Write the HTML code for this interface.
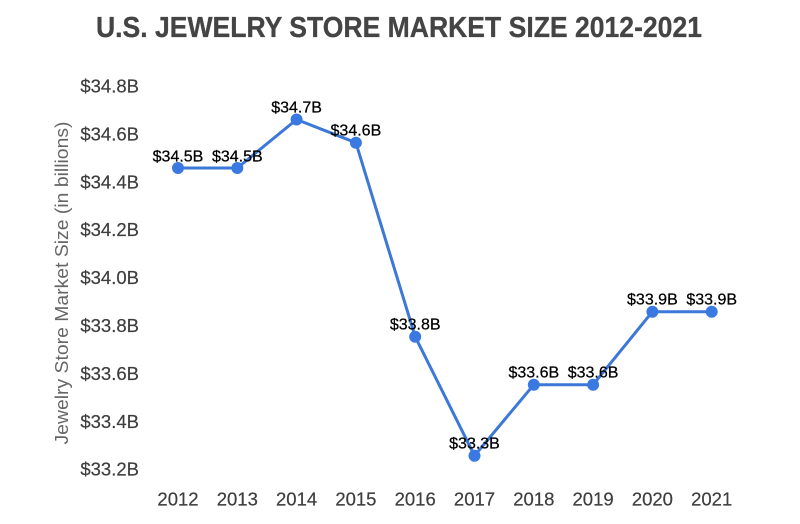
<!DOCTYPE html>
<html>
<head>
<meta charset="utf-8">
<style>
  html, body { margin: 0; padding: 0; background: #ffffff; }
  svg { display: block; }
  text { font-family: "Liberation Sans", "DejaVu Sans", sans-serif; }
</style>
</head>
<body>
<svg width="800" height="524" viewBox="0 0 800 524" xmlns="http://www.w3.org/2000/svg">
  <rect width="800" height="524" fill="#ffffff"/>
  <!-- Title -->
  <text x="96" y="37" font-size="29" font-weight="bold" fill="#444444" stroke="#444444" stroke-width="0.3" textLength="606" lengthAdjust="spacingAndGlyphs">U.S. JEWELRY STORE MARKET SIZE 2012-2021</text>

  <!-- Y axis title -->
  <text transform="translate(68,283) rotate(-90)" text-anchor="middle" font-size="18" fill="#666666" textLength="323" lengthAdjust="spacingAndGlyphs">Jewelry Store Market Size (in billions)</text>

  <!-- Y tick labels -->
  <g font-size="18.5" fill="#3e3e3e" stroke="#3e3e3e" stroke-width="0.2" text-anchor="end">
    <text x="139" y="92.5">$34.8B</text>
    <text x="139" y="140.4">$34.6B</text>
    <text x="139" y="188.3">$34.4B</text>
    <text x="139" y="236.2">$34.2B</text>
    <text x="139" y="284.1">$34.0B</text>
    <text x="139" y="332">$33.8B</text>
    <text x="139" y="379.9">$33.6B</text>
    <text x="139" y="427.8">$33.4B</text>
    <text x="139" y="475.7">$33.2B</text>
  </g>

  <!-- X tick labels -->
  <g font-size="18.5" fill="#3e3e3e" stroke="#3e3e3e" stroke-width="0.2" text-anchor="middle">
    <text x="178" y="505.5">2012</text>
    <text x="237.3" y="505.5">2013</text>
    <text x="296.6" y="505.5">2014</text>
    <text x="355.9" y="505.5">2015</text>
    <text x="415.2" y="505.5">2016</text>
    <text x="474.5" y="505.5">2017</text>
    <text x="533.8" y="505.5">2018</text>
    <text x="593.1" y="505.5">2019</text>
    <text x="652.4" y="505.5">2020</text>
    <text x="711.7" y="505.5">2021</text>
  </g>

  <!-- Line -->
  <polyline fill="none" stroke="#3c78d8" stroke-width="3" stroke-linejoin="round"
    points="178,168 237.3,168 296.6,119.5 355.9,142.7 415.2,336.7 474.5,455.7 533.8,384.7 593.1,384.7 652.4,311.7 711.7,311.7"/>

  <!-- Dots -->
  <g fill="#3a78e2">
    <circle cx="178" cy="168" r="6"/>
    <circle cx="237.3" cy="168" r="6"/>
    <circle cx="296.6" cy="119.5" r="6"/>
    <circle cx="355.9" cy="142.7" r="6"/>
    <circle cx="415.2" cy="336.7" r="6"/>
    <circle cx="474.5" cy="455.7" r="6"/>
    <circle cx="533.8" cy="384.7" r="6"/>
    <circle cx="593.1" cy="384.7" r="6"/>
    <circle cx="652.4" cy="311.7" r="6"/>
    <circle cx="711.7" cy="311.7" r="6"/>
  </g>

  <!-- Data labels -->
  <g font-size="16" fill="#000000" stroke="#000000" stroke-width="0.25" text-anchor="middle">
    <text x="178" y="161.5">$34.5B</text>
    <text x="237.3" y="161.5">$34.5B</text>
    <text x="296.6" y="112.5">$34.7B</text>
    <text x="355.9" y="135.7">$34.6B</text>
    <text x="415.2" y="329.7">$33.8B</text>
    <text x="474.5" y="448.7">$33.3B</text>
    <text x="533.8" y="377.7">$33.6B</text>
    <text x="593.1" y="377.7">$33.6B</text>
    <text x="652.4" y="304.7">$33.9B</text>
    <text x="711.7" y="304.7">$33.9B</text>
  </g>
</svg>
</body>
</html>
